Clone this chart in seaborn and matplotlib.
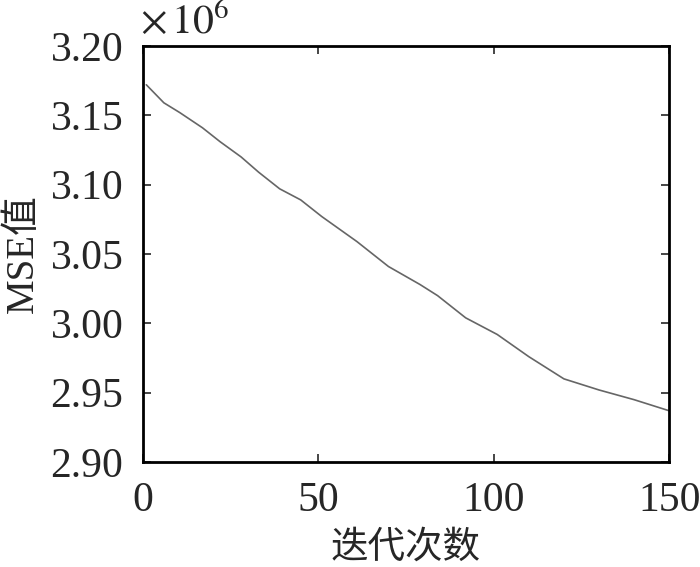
import matplotlib
matplotlib.use("Agg")
import matplotlib.pyplot as plt
import seaborn as sns
import pandas as pd

# MSE per iteration (units of 1e6)
iterations = [1, 6, 10.5, 17, 22, 28, 33, 39, 45, 51, 61, 70, 79, 84, 92, 101, 110, 120, 130, 140, 150]
mse_values = [3.172, 3.159, 3.152, 3.141, 3.131, 3.120, 3.109, 3.097, 3.089, 3.077, 3.059,
              3.041, 3.028, 3.020, 3.004, 2.992, 2.976, 2.960, 2.952, 2.945, 2.937]
x_ticks = [0, 50, 100, 150]
y_ticks = [2.90, 2.95, 3.00, 3.05, 3.10, 3.15, 3.20]

df = pd.DataFrame({"iter": iterations, "mse": mse_values})

sns.set_style("ticks")
plt.rcParams['font.family'] = ['Liberation Serif', 'Noto Sans CJK SC', 'DejaVu Sans']
plt.rcParams['mathtext.fontset'] = 'stix'

fig = plt.figure(figsize=(7, 5.67), dpi=100)
ax = fig.add_axes([0.204, 0.185, 0.752, 0.734])

sns.lineplot(data=df, x="iter", y="mse", ax=ax, color="#666666", linewidth=1.2)

ax.set_xlim(0, 150)
ax.set_ylim(2.90, 3.20)
ax.set_xticks(x_ticks)
ax.set_yticks(y_ticks)
ax.set_yticklabels([f"{v:.2f}" for v in y_ticks])
ax.tick_params(direction="in", length=6, width=1.2, labelsize=30, top=True, right=True)
ax.tick_params(axis="y", pad=14)
ax.tick_params(axis="x", pad=14)
for s in ax.spines.values():
    s.set_linewidth(2)
    s.set_color("black")

ax.set_xlabel("迭代次数", fontsize=27, labelpad=8)
ax.set_ylabel("MSE值", fontsize=28, labelpad=6)
ax.text(-0.005, 1.01, r"$\times\,10^{6}$", transform=ax.transAxes, fontsize=30, ha="left", va="bottom")

fig.savefig("out.png", dpi=100)
